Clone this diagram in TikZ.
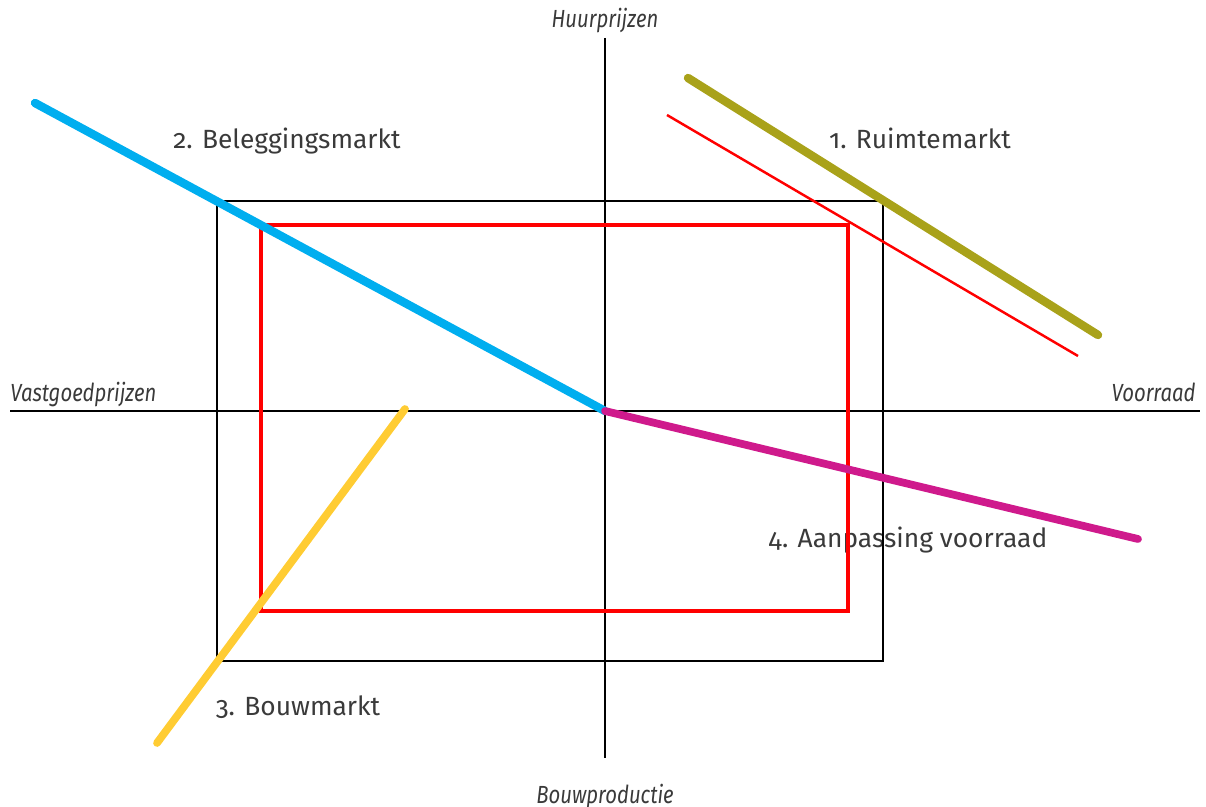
\documentclass[tikz,border=0pt]{standalone}
\usepackage{fontspec}
\setmainfont{Fira Sans}[Numbers=OldStyle]
\newfontfamily\axfont{Fira Sans}[FakeStretch=0.82]
\definecolor{txt}{HTML}{3A3A3A}
\definecolor{bl}{HTML}{00AEEF}
\definecolor{mg}{HTML}{CF1A8C}
\definecolor{yl}{HTML}{FFCC33}
\definecolor{ol}{HTML}{A9A21A}
\definecolor{rd}{HTML}{FF0000}
\begin{document}
\begin{tikzpicture}[x=0.02cm,y=-0.02cm,
  lbl/.style={text=txt,font=\fontsize{15}{18}\selectfont,anchor=base,inner sep=0pt},
  axl/.style={text=txt,font=\axfont\itshape\fontsize{14.1}{17}\selectfont,anchor=base,inner sep=0pt},
  axis/.style={black,line width=0.6pt},
  mk/.style={line width=4.8pt},
]
\useasboundingbox (0,0) rectangle (1206,807);
% labels
\node[axl] (hp) at (605,28) {Huurprijzen};
\node[axl] (bp) at (605,803) {Bouwproductie};
\node[axl,anchor=base west] (vp) at (10,401.5) {Vastgoedprijzen};
\node[axl,anchor=base east] (vr) at (1196,401.5) {Voorraad};
\node[lbl] (l2) at (287,149) {2. Beleggingsmarkt};
\node[lbl] (l1) at (920,149) {1. Ruimtemarkt};
\node[lbl] (l3) at (298,715) {3. Bouwmarkt};
\node[lbl] (l4) at (908,547) {4. Aanpassing voorraad};
% axes
\coordinate (o) at (605,411);
\coordinate (at) at (605,38);
\coordinate (ab) at (605,758);
\coordinate (al) at (10,411);
\coordinate (ar) at (1200,411);
\draw[axis] (at) -- (ab);
\draw[axis] (al) -- (ar);
% rectangles
\draw[black,line width=1.4pt] (217,201) rectangle (883,661);
\draw[rd,line width=2pt] (261,225) rectangle (848,611);
% market lines
\coordinate (b1) at (35,103);
\coordinate (m2) at (1138,539);
\coordinate (y1) at (157,743);
\coordinate (y2) at (405,409);
\coordinate (g1) at (688,78);
\coordinate (g2) at (1098,335);
\coordinate (r1) at (667,115);
\coordinate (r2) at (1078,356);
\draw[bl,mk,line cap=round] (b1) -- (o);
\draw[mg,line width=4.4pt,line cap=round] (o) -- (m2);
\draw[yl,line width=4.4pt,line cap=round] (y1) -- (y2);
\draw[ol,mk,line cap=round] (g1) -- (g2);
\draw[rd,line width=1.4pt] (r1) -- (r2);
\end{tikzpicture}
\end{document}
